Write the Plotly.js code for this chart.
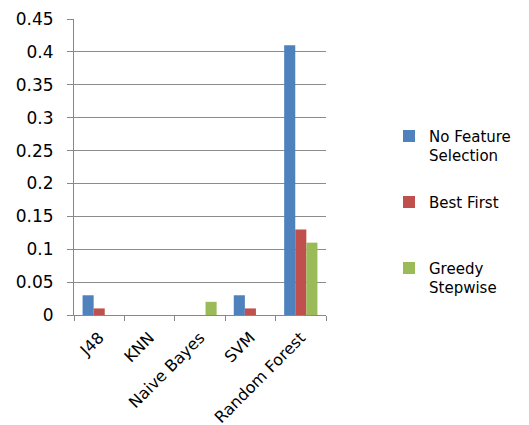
<!DOCTYPE html>
<html>
<head>
<meta charset="utf-8">
<script src="https://cdn.plot.ly/plotly-3.0.1.min.js"></script>
<style>html,body{margin:0;padding:0;background:#fff;}#chart{width:529px;height:425px;}</style>
</head>
<body>
<div id="chart"></div>
<script>
const categories = ["J48", "KNN", "Naive Bayes", "SVM", "Random Forest"];
const noFeatureSelection = [0.03, 0, 0, 0.03, 0.41];
const bestFirst = [0.01, 0, 0, 0.01, 0.13];
const greedyStepwise = [0, 0, 0.02, 0, 0.11];
const seriesNames = ["No Feature<br>Selection", "Best First<br>&nbsp;", "Greedy<br>Stepwise"];
const seriesColors = ["#4F81BD", "#C0504D", "#9BBB59"];
const yTicks = [0, 0.05, 0.1, 0.15, 0.2, 0.25, 0.3, 0.35, 0.4, 0.45];
const yTickText = ["0", "0.05", "0.1", "0.15", "0.2", "0.25", "0.3", "0.35", "0.4", "0.45"];

const series = [noFeatureSelection, bestFirst, greedyStepwise];
const data = series.map((vals, i) => ({
  type: "bar",
  x: categories,
  y: vals,
  name: seriesNames[i],
  legendgroup: "g" + i,
  marker: {color: seriesColors[i]},
  hoverinfo: "x+y"
}));

const font = {family: "DejaVu Sans, sans-serif", color: "#000"};
const layout = {
  width: 529, height: 425,
  margin: {l: 74, r: 203, t: 19, b: 110},
  paper_bgcolor: "#fff", plot_bgcolor: "#fff",
  barmode: "group",
  bargap: 0.34,
  bargroupgap: 0,
  font: Object.assign({size: 15}, font),
  xaxis: {
    type: "category",
    tickangle: -45,
    tickson: "boundaries",
    ticks: "outside", ticklen: 5, tickcolor: "#888",
    ticklabelstandoff: 6,
    showline: true, linecolor: "#888", linewidth: 1,
    showgrid: false,
    tickfont: Object.assign({size: 16}, font)
  },
  yaxis: {
    range: [0, 0.45],
    tickvals: yTicks, ticktext: yTickText,
    ticks: "outside", ticklen: 6, tickcolor: "#888",
    ticklabelstandoff: 10,
    showline: true, linecolor: "#888", linewidth: 1,
    showgrid: true, gridcolor: "#8c8c8c", gridwidth: 1,
    zeroline: false,
    tickfont: Object.assign({size: 17}, font)
  },
  showlegend: true,
  legend: {
    x: 1.25, xanchor: "left", y: 0.66, yanchor: "top",
    xref: "paper", yref: "paper",
    valign: "top",
    tracegroupgap: 24,
    itemwidth: 30,
    font: Object.assign({size: 15}, font),
    bgcolor: "rgba(0,0,0,0)"
  }
};
Plotly.newPlot("chart", data, layout, {displayModeBar: false, staticPlot: true});
</script>
</body>
</html>
